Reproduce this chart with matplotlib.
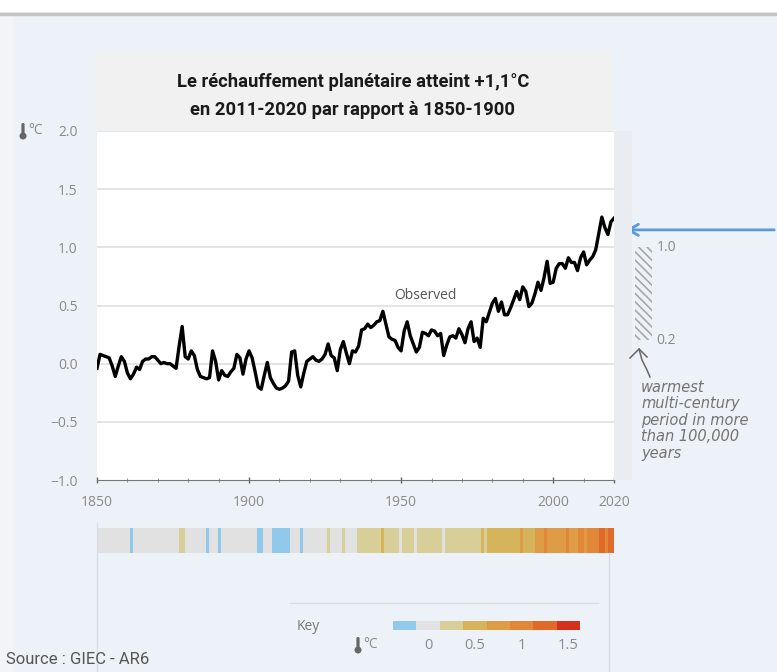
import numpy as np
import matplotlib
matplotlib.use("Agg")
import matplotlib.pyplot as plt
from matplotlib.colors import ListedColormap, BoundaryNorm
from matplotlib.patches import Rectangle, Ellipse, FancyBboxPatch
from matplotlib.lines import Line2D

# anomalies de température globale (°C, par rapport à 1850-1900)
years = np.arange(1850, 2021)
anomaly = [
    -0.04, 0.08, 0.07, 0.06, 0.05, -0.02, -0.11, -0.02, 0.06, 0.02,   # 1850
    -0.08, -0.13, -0.09, -0.03, -0.05, 0.02, 0.04, 0.04, 0.06, 0.06,  # 1860
    0.03, 0.00, 0.01, 0.00, 0.00, -0.02, -0.04, 0.15, 0.32, 0.06,     # 1870
    0.04, 0.11, 0.07, -0.05, -0.11, -0.12, -0.13, -0.12, 0.11, 0.02,  # 1880
    -0.14, -0.06, -0.10, -0.11, -0.07, -0.04, 0.08, 0.05, -0.09, 0.04,  # 1890
    0.11, 0.05, -0.07, -0.20, -0.22, -0.10, 0.01, -0.12, -0.17, -0.21,  # 1900
    -0.22, -0.21, -0.19, -0.15, 0.10, 0.11, -0.10, -0.20, -0.08, 0.02,  # 1910
    0.04, 0.06, 0.03, 0.02, 0.04, 0.08, 0.17, 0.07, 0.05, -0.06,      # 1920
    0.12, 0.19, 0.09, 0.00, 0.11, 0.10, 0.15, 0.29, 0.30, 0.34,       # 1930
    0.31, 0.33, 0.36, 0.37, 0.45, 0.34, 0.23, 0.21, 0.20, 0.14,       # 1940
    0.11, 0.28, 0.36, 0.24, 0.17, 0.10, 0.14, 0.27, 0.26, 0.24,       # 1950
    0.29, 0.28, 0.24, 0.26, 0.07, 0.16, 0.23, 0.24, 0.22, 0.30,       # 1960
    0.25, 0.18, 0.30, 0.36, 0.19, 0.22, 0.14, 0.39, 0.36, 0.44,       # 1970
    0.52, 0.56, 0.45, 0.53, 0.42, 0.42, 0.48, 0.55, 0.62, 0.55,       # 1980
    0.66, 0.62, 0.49, 0.52, 0.60, 0.70, 0.63, 0.74, 0.88, 0.69,       # 1990
    0.70, 0.82, 0.86, 0.86, 0.82, 0.91, 0.87, 0.87, 0.80, 0.91,       # 2000
    0.96, 0.85, 0.89, 0.92, 0.98, 1.12, 1.26, 1.17, 1.11, 1.22,       # 2010
    1.25,                                                             # 2020
]

# échelle de couleurs de la légende
key_colors = ["#91c9ec", "#e1e1e1", "#d8cf98", "#d6b45c",
              "#dd9c45", "#e08838", "#e16a2a", "#d7301f"]
key_bounds = [-0.375, -0.125, 0.125, 0.375, 0.625, 0.875, 1.125, 1.375, 1.625]
key_ticks = [0, 0.5, 1, 1.5]
key_ticklabels = ["0", "0.5", "1", "1.5"]

# fourchette de la période la plus chaude depuis 100 000 ans
warm_low, warm_high = 0.2, 1.0
# réchauffement 2011-2020
recent = 1.15

y_ticks = [-1.0, -0.5, 0.0, 0.5, 1.0, 1.5, 2.0]
x_major = [1850, 1900, 1950, 2000, 2020]

W, H = 777, 672
BG = "#edf2f9"
GREY = "#8a8a8a"
NARROW = ["Roboto", "DejaVu Sans"]

plt.rcParams["hatch.linewidth"] = 1.2


def fx(x):
    return x / W


def fy(y):
    return 1 - y / H


def thermo(fig, x, y, color="#666666"):
    # petit thermomètre dessiné à la main (x, y = centre du réservoir en px)
    fig.patches.append(FancyBboxPatch((fx(x - 1.6), fy(y - 2)), 3.2 / W, 11 / H,
                                      boxstyle="round,pad=0,rounding_size=0.002",
                                      transform=fig.transFigure, fc=color, ec="none"))
    fig.patches.append(Ellipse((fx(x), fy(y)), 7 / W, 7 / H,
                               transform=fig.transFigure, fc=color, ec="none"))


fig = plt.figure(figsize=(W / 100, H / 100), dpi=100)
fig.patch.set_facecolor(BG)

# bandeau supérieur
fig.patches.append(Rectangle((0, fy(12)), 1, 12 / H, transform=fig.transFigure,
                             fc="white", ec="none"))
fig.add_artist(Line2D([0, 1], [fy(13.5), fy(13.5)], transform=fig.transFigure,
                      color="#c4c4c4", lw=2.5))
fig.patches.append(Rectangle((0, 0), fx(14), fy(15), transform=fig.transFigure,
                             fc="#f3f4f7", ec="none"))

# encadré du titre
fig.patches.append(Rectangle((fx(95), fy(130)), (612 - 95) / W, 80 / H,
                             transform=fig.transFigure, fc="#f1f1f1", ec="none"))
fig.text(fx(353), fy(82), "Le réchauffement planétaire atteint +1,1°C",
         ha="center", va="center", fontsize=13.2, fontweight="bold",
         family=NARROW, color="#1a1a1a")
fig.text(fx(353), fy(110), "en 2011-2020 par rapport à 1850-1900",
         ha="center", va="center", fontsize=13.2, fontweight="bold",
         family=NARROW, color="#1a1a1a")

# bande grise à droite du graphique
fig.patches.append(Rectangle((fx(614), fy(480)), 18 / W, 349 / H,
                             transform=fig.transFigure, fc="#e9edf2", ec="none"))

# graphique principal
ax = fig.add_axes([fx(97), fy(480), (614 - 97) / W, (480 - 131) / H])
ax.set_facecolor("white")
ax.plot(years, anomaly, color="black", lw=2.4, solid_joinstyle="round", zorder=3)
ax.set_xlim(1850, 2020)
ax.set_ylim(-1.0, 2.0)
ax.set_yticks(y_ticks)
ax.set_yticklabels([f"{t:.1f}".replace("-", "\u2212") for t in y_ticks])
ax.set_xticks(x_major)
ax.set_xticks(np.arange(1850, 2021, 10), minor=True)
for t in y_ticks[1:]:
    ax.axhline(t, color="#e4e4e4", lw=1.4, zorder=1)
for s in ["top", "right", "left"]:
    ax.spines[s].set_visible(False)
ax.spines["bottom"].set_color("#777777")
ax.spines["bottom"].set_linewidth(0.8)
ax.tick_params(axis="y", length=0, pad=14, labelsize=10, labelcolor=GREY)
ax.tick_params(axis="x", which="major", length=5, width=1, color="#666666",
               direction="inout", pad=8, labelsize=10, labelcolor=GREY)
ax.tick_params(axis="x", which="minor", length=3, width=0.8, color="#999999",
               direction="inout")
for lab in ax.get_xticklabels() + ax.get_yticklabels():
    lab.set_family("Open Sans")

ax.text(1958, 0.59, "Observed", fontsize=10, color="#555555",
        family="Open Sans", ha="center", va="center")

# unité en haut de l'axe
thermo(fig, 23, 136)
fig.text(fx(28), fy(131), "°C", fontsize=10, color=GREY, family="Open Sans",
         va="center", ha="left")

# fourchette hachurée
ax.add_patch(Rectangle((2027, warm_low), 5.5, warm_high - warm_low, fill=False,
                       hatch="\\\\\\\\", ec="#a8a8a8", lw=0, clip_on=False))
ax.text(2034, warm_high, f"{warm_high:.1f}", fontsize=10, color=GREY,
        family="Open Sans", va="center", ha="left", clip_on=False)
ax.text(2034, warm_low, f"{warm_low:.1f}", fontsize=10, color=GREY,
        family="Open Sans", va="center", ha="left", clip_on=False)

# petite flèche manuscrite
fig.add_artist(Line2D([fx(630), fx(639), fx(647)], [fy(358), fy(349), fy(357)],
                      transform=fig.transFigure, color="#666666", lw=1.1))
fig.add_artist(Line2D([fx(639), fx(642), fx(647), fx(650)],
                      [fy(349), fy(360), fy(370), fy(377)],
                      transform=fig.transFigure, color="#666666", lw=1.1))
fig.text(fx(641), fy(380),
         "warmest\nmulti-century\nperiod in more\nthan 100,000\nyears",
         fontsize=10.5, style="italic", color="#737373", family="DejaVu Sans",
         va="top", ha="left", linespacing=1.12)

# flèche bleue vers le niveau actuel
ax.annotate("", xy=(2023, recent), xycoords="data",
            xytext=(1.0, recent), textcoords=("figure fraction", "data"),
            arrowprops=dict(arrowstyle="->,head_length=0.7,head_width=0.4",
                            color="#5a9bd5", lw=2),
            annotation_clip=False)

# bandes de couleur (une par année)
cmap = ListedColormap(key_colors)
norm = BoundaryNorm(key_bounds, cmap.N, clip=True)
axs = fig.add_axes([fx(97), fy(553), (614 - 97) / W, 25 / H])
edges = np.append(years - 0.5, years[-1] + 0.5)
axs.pcolormesh(edges, [0, 1], np.array([anomaly]), cmap=cmap, norm=norm,
               shading="flat", antialiased=False, linewidth=0)
axs.set_xlim(edges[0], edges[-1])
axs.set_ylim(0, 1)
axs.axis("off")

# cadre du bas
fig.add_artist(Line2D([fx(97), fx(97)], [fy(523), 0], transform=fig.transFigure,
                      color="#d9dde4", lw=1))
fig.add_artist(Line2D([fx(609), fx(609)], [fy(553), 0], transform=fig.transFigure,
                      color="#d9dde4", lw=1))
fig.add_artist(Line2D([fx(290), fx(598)], [fy(603), fy(603)],
                      transform=fig.transFigure, color="#d9dde4", lw=1))

# légende
fig.text(fx(297), fy(627), "Key", fontsize=10, color="#777777",
         family="Open Sans", va="center", ha="left")
thermo(fig, 358, 650)
fig.text(fx(363), fy(645), "°C", fontsize=10, color=GREY, family="Open Sans",
         va="center", ha="left")
axk = fig.add_axes([fx(393), fy(630), (580 - 393) / W, 9 / H])
for i, c in enumerate(key_colors):
    axk.add_patch(Rectangle((key_bounds[i], 0), key_bounds[i + 1] - key_bounds[i], 1,
                            fc=c, ec="none"))
axk.set_xlim(key_bounds[0], key_bounds[-1])
axk.set_ylim(0, 1)
axk.axis("off")
for t, lab in zip(key_ticks, key_ticklabels):
    axk.text(t, -0.9, lab, fontsize=10.5, color=GREY, family="Open Sans",
             ha="center", va="top", transform=axk.transData)

fig.text(fx(6), fy(659), "Source : GIEC - AR6", fontsize=12, color="#555555",
         family=NARROW, va="center", ha="left")

fig.savefig("out.png", dpi=100, facecolor=fig.get_facecolor())
